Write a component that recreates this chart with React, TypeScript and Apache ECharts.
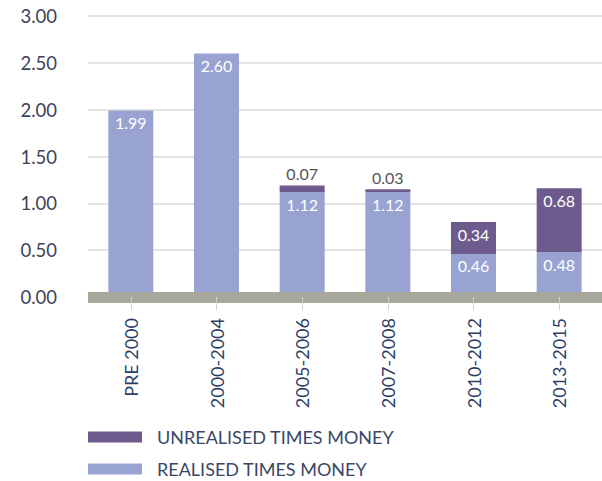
import React, { useEffect, useRef } from "react";
import * as echarts from "echarts";

const categories = ["PRE 2000", "2000-2004", "2005-2006", "2007-2008", "2010-2012", "2013-2015"];
const realised = [1.99, 2.6, 1.12, 1.12, 0.46, 0.48];
const unrealised = [null, null, 0.07, 0.03, 0.34, 0.68];
const yTicks = [0, 0.5, 1, 1.5, 2, 2.5, 3];
const seriesNames = ["REALISED TIMES MONEY", "UNREALISED TIMES MONEY"];

const FONT = "Lato, 'Open Sans', sans-serif";

export default function App() {
  const ref = useRef<HTMLDivElement>(null);
  useEffect(() => {
    document.body.style.margin = "0";
    const chart = echarts.init(ref.current!, null, { renderer: "svg" });
    const valueLabel = {
      show: true,
      position: "insideTop",
      distance: 4,
      color: "#ffffff",
      fontSize: 16,
      fontFamily: FONT,
      formatter: (p: any) => Number(p.value).toFixed(2),
    };
    const legendBase = {
      orient: "vertical",
      left: 88,
      itemWidth: 54,
      itemHeight: 11,
      icon: "rect",
      padding: 0,
      textStyle: {
        fontFamily: FONT,
        fontSize: 18,
        color: "#3b4767",
        padding: [0, 0, 0, 10],
      },
    };
    chart.setOption({
      animation: false,
      grid: { left: 88, top: 16, width: 528, height: 281 },
      legend: [
        { ...legendBase, top: 428, data: [seriesNames[1]] },
        { ...legendBase, top: 460, data: [seriesNames[0]] },
      ],
      xAxis: {
        type: "category",
        data: categories,
        z: 10,
        axisLine: { show: true, lineStyle: { color: "#a8a79c", width: 11, cap: "butt" } },
        axisTick: { show: true, alignWithLabel: true, length: 13, lineStyle: { color: "#d0d0d0", width: 1 } },
        axisLabel: {
          rotate: 90,
          margin: 21,
          fontSize: 18,
          fontFamily: FONT,
          color: "#2e3f66",
        },
      },
      yAxis: {
        type: "value",
        min: yTicks[0],
        max: yTicks[yTicks.length - 1],
        interval: 0.5,
        axisLine: { show: false },
        axisTick: { show: false },
        splitLine: { lineStyle: { color: "#dadada", width: 1.5 } },
        axisLabel: {
          margin: 31,
          fontSize: 18.5,
          fontFamily: FONT,
          color: "#3d4457",
          formatter: (v: number) => v.toFixed(2),
        },
      },
      series: [
        {
          name: seriesNames[0],
          type: "bar",
          stack: "tm",
          barWidth: 45,
          itemStyle: { color: "#99a3d2" },
          label: valueLabel,
          data: realised,
        },
        {
          name: seriesNames[1],
          type: "bar",
          stack: "tm",
          barWidth: 45,
          itemStyle: { color: "#6e5b8e" },
          label: valueLabel,
          data: unrealised.map((v) =>
            v !== null && v < 0.1
              ? {
                  value: v,
                  label: { position: "top", color: "#555555", distance: 4 },
                }
              : v === null
              ? "-"
              : v
          ),
        },
      ],
    });
    return () => chart.dispose();
  }, []);
  return <div ref={ref} style={{ width: 602, height: 481 }} />;
}
